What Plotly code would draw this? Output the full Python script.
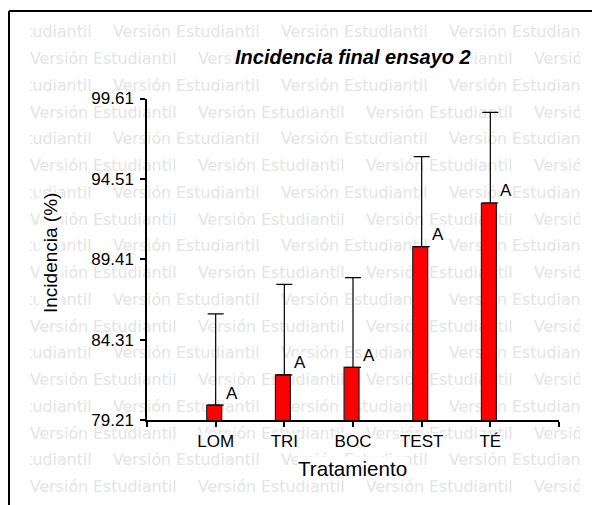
import plotly.graph_objects as go

W, H = 592, 505

# ---------------- data ----------------
categories = ["LOM", "TRI", "BOC", "TEST", "TÉ"]
means = [80.16, 82.07, 82.55, 90.21, 92.98]
errors = [5.78, 5.75, 5.69, 5.71, 5.75]
letters = ["A", "A", "A", "A", "A"]
y_ticks = [79.21, 84.31, 89.41, 94.51, 99.61]
y_ticktext = ["79.21", "84.31", "89.41", "94.51", "99.61"]

title_text = "Incidencia final ensayo 2"
x_title = "Tratamiento"
y_title = "Incidencia (%)"
watermark = "Versión Estudiantil"

# ---------------- layout constants (pixels) ----------------
PX0, PX1 = 147, 559          # x axis extent
PY_BASE, PY_TOP = 420, 98.5  # y axis extent
XMAX = len(categories) + 1
FONT = "Liberation Sans, Arial, sans-serif"
TICK_FS = 17

xpos = list(range(1, len(categories) + 1))


def px_x(v):
    return PX0 + v / XMAX * (PX1 - PX0)


def px_y(v):
    return PY_BASE - (v - y_ticks[0]) / (y_ticks[-1] - y_ticks[0]) * (PY_BASE - PY_TOP)


ARIAL_W = {"L": .556, "O": .778, "M": .833, "T": .611, "R": .722, "I": .278,
           "B": .667, "C": .722, "E": .667, "S": .667, "É": .667}


def text_w(s, fs):
    return sum(ARIAL_W.get(ch, .6) for ch in s) * fs


fig = go.Figure()

# ---------------- watermark layer (subplot xy) ----------------
wx, wy, wt = [], [], []
n_rows, row0, row_dy, period = 18, 33.3, 26.76, 168
for k in range(n_rows):
    start = -55 if k % 2 == 0 else 30
    xx = start
    while xx < 580:
        wx.append(xx)
        wy.append(row0 + k * row_dy)
        wt.append(watermark)
        xx += period
fig.add_trace(go.Scatter(
    x=wx, y=wy, text=wt, mode="text", textposition="middle right",
    textfont=dict(family="DejaVu Sans", size=15.8, color="#e4e4e4"),
    cliponaxis=True, hoverinfo="skip", xaxis="x", yaxis="y"))

# ---------------- white label backgrounds (subplot x2y2) ----------------
rx, ry = [], []


def add_rect(x0, x1, y0, y1):
    rx.extend([x0, x1, x1, x0, x0, None])
    ry.extend([y0, y0, y1, y1, y0, None])


for t in y_ticks:
    add_rect(88, 135, px_y(t) - 7.5, px_y(t) + 7.5)
for i, c in enumerate(categories):
    w = text_w(c, TICK_FS)
    cx = px_x(xpos[i])
    add_rect(cx - w / 2 - 1, cx + w / 2 + 1, 433, 448)
fig.add_trace(go.Scatter(
    x=rx, y=ry, mode="lines", fill="toself", fillcolor="white",
    line=dict(width=0, color="white"), hoverinfo="skip",
    xaxis="x2", yaxis="y2"))

# ---------------- chart (subplot x3y3) ----------------
fig.add_trace(go.Bar(
    x=xpos, y=means, width=0.218, offset=-0.13,
    marker=dict(color="#ff0000", line=dict(color="#202020", width=1.2)),
    xaxis="x3", yaxis="y3", hoverinfo="skip"))
fig.add_trace(go.Scatter(
    x=xpos, y=means, mode="markers",
    marker=dict(size=1, color="rgba(0,0,0,0)"),
    error_y=dict(type="data", array=errors, arrayminus=[0] * len(errors),
                 symmetric=False, color="black", thickness=1.2, width=8),
    xaxis="x3", yaxis="y3", hoverinfo="skip"))

annotations = []
for i, (m, lab) in enumerate(zip(means, letters)):
    annotations.append(dict(
        x=xpos[i], y=m, xref="x3", yref="y3", text=lab, showarrow=False,
        xshift=16, yshift=12, font=dict(family=FONT, size=TICK_FS, color="black"),
        bgcolor="white", borderpad=0))

annotations.append(dict(
    x=352.5 / W, y=1 - 57 / H, xref="paper", yref="paper",
    text="<b><i>" + title_text + "</i></b>", showarrow=False,
    xanchor="center", yanchor="middle",
    font=dict(family=FONT, size=20, color="black"), bgcolor="white", borderpad=0))
annotations.append(dict(
    x=352.5 / W, y=1 - 468.5 / H, xref="paper", yref="paper",
    text=x_title, showarrow=False, xanchor="center", yanchor="middle",
    font=dict(family=FONT, size=20.6, color="black"), bgcolor="white", borderpad=0))
annotations.append(dict(
    x=50.5 / W, y=1 - 253.5 / H, xref="paper", yref="paper",
    text=y_title, showarrow=False, textangle=-90, xanchor="center", yanchor="middle",
    font=dict(family=FONT, size=19, color="black"), bgcolor="white", borderpad=0))

axis_common = dict(showline=True, linecolor="black", linewidth=1.5, ticks="outside",
                   ticklen=5, tickwidth=1.5, tickcolor="black", showgrid=False,
                   zeroline=False, automargin=False,
                   tickfont=dict(family=FONT, size=TICK_FS, color="black"))
hidden = dict(visible=False, automargin=False, showgrid=False, zeroline=False)

fig.update_layout(
    template="none",
    width=W, height=H, autosize=False, margin=dict(l=0, r=0, t=0, b=0, pad=0),
    paper_bgcolor="white", plot_bgcolor="rgba(0,0,0,0)", showlegend=False,
    xaxis=dict(domain=[30 / W, 580 / W], range=[30, 580], anchor="y", **hidden),
    yaxis=dict(domain=[0, 1], range=[H, 0], anchor="x", **hidden),
    xaxis2=dict(domain=[0, 1], range=[0, W], anchor="y2", **hidden),
    yaxis2=dict(domain=[0, 1], range=[H, 0], anchor="x2", **hidden),
    xaxis3=dict(domain=[PX0 / W, PX1 / W], range=[0, XMAX], anchor="y3",
                tickvals=list(range(0, XMAX + 1)),
                ticktext=[""] + categories + [""], **axis_common),
    yaxis3=dict(domain=[(H - PY_BASE) / H, (H - PY_TOP) / H],
                range=[y_ticks[0], y_ticks[-1]], anchor="x3",
                tickvals=y_ticks, ticktext=y_ticktext, ticklabelstandoff=3,
                **axis_common),
    annotations=annotations,
    shapes=[
        dict(type="line", xref="paper", yref="paper", x0=9 / W, x1=1, y0=1 - 11 / H, y1=1 - 11 / H,
             line=dict(color="black", width=2)),
        dict(type="line", xref="paper", yref="paper", x0=9 / W, x1=9 / W, y0=0, y1=1 - 11 / H,
             line=dict(color="black", width=2)),
    ],
)

fig.write_html(
    "out.html",
    config={"displayModeBar": False},
    post_script="document.body.style.margin='0px';document.body.style.padding='0px';"
                "document.body.style.overflow='hidden';",
)
